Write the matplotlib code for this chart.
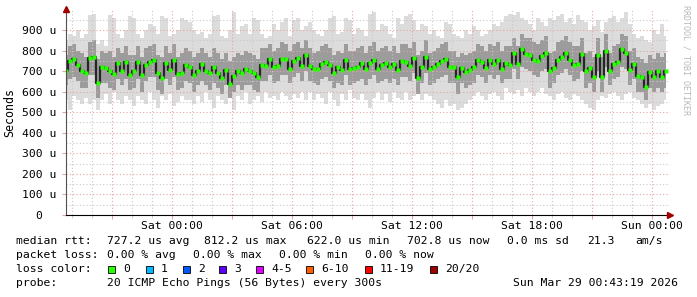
import pandas as pd
import matplotlib
matplotlib.use("Agg")
import matplotlib.pyplot as plt
import matplotlib.dates as mdates
from matplotlib.patches import Rectangle

plt.rcParams["font.family"] = "DejaVu Sans Mono"

# ---------------- data (microseconds) ----------------
start = "2026-03-27 18:42"
step_min = 12

median = [
    700, 750, 760, 730, 700, 690, 765, 770, 640, 720, 715, 700, 685, 740, 700, 745,
    680, 700, 745, 680, 730, 745, 755, 690, 665, 740, 705, 755, 685, 690, 730,
    720, 680, 700, 735, 700, 690, 720, 690, 665, 705, 635, 675, 700, 690, 710,
    700, 690, 670, 730, 725, 760, 720, 725, 760, 760, 710, 750, 765, 725, 780,
    725, 710, 710, 735, 745, 730, 690, 720, 705, 755, 710, 715, 720, 740, 710,
    740, 755, 710, 730, 740, 720, 735, 705, 750, 745, 725, 765, 665, 720, 770,
    710, 720, 735, 750, 760, 720, 720, 670, 715, 695, 705, 720, 755, 745, 715,
    755, 735, 755, 710, 740, 730, 790, 735, 805, 785, 780, 755, 750, 775, 790,
    700, 715, 755, 770, 790, 755, 730, 735, 785, 700, 715, 670, 780, 670, 800,
    700, 735, 745, 805, 790, 705, 735, 675, 670, 625, 695, 670, 700, 670, 700,
]

ping_max = [
    850, 880, 870, 900, 860, 880, 975, 980, 830, 850, 820, 975, 960, 880, 860, 900,
    970, 960, 880, 860, 900, 930, 920, 880, 970, 960, 870, 880, 900, 960, 950,
    940, 900, 880, 890, 860, 880, 970, 975, 870, 860, 900, 985, 880, 920, 930,
    880, 960, 950, 880, 860, 870, 930, 900, 940, 960, 870, 950, 960, 900, 920,
    940, 900, 880, 870, 900, 960, 970, 880, 890, 960, 950, 880, 910, 900, 870,
    980, 985, 900, 930, 920, 880, 860, 960, 930, 970, 980, 950, 900, 930, 920,
    880, 900, 870, 860, 940, 930, 880, 870, 860, 900, 880, 920, 900, 870, 880,
    900, 930, 920, 940, 970, 980, 975, 985, 960, 950, 930, 900, 960, 940, 920,
    960, 950, 970, 980, 940, 960, 930, 975, 950, 940, 900, 920, 950, 890, 940,
    960, 970, 940, 960, 985, 930, 880, 860, 870, 850, 840, 900, 880, 930, 870,
]

ping_min = [
    560, 510, 580, 560, 540, 570, 540, 560, 510, 560, 590, 540, 600, 560, 540, 580,
    560, 530, 580, 560, 540, 600, 560, 520, 580, 560, 590, 530, 550, 580, 560,
    560, 540, 580, 550, 600, 560, 520, 580, 560, 540, 570, 510, 580, 560, 600,
    540, 560, 580, 550, 600, 570, 580, 560, 600, 580, 560, 590, 570, 600, 560,
    600, 560, 590, 570, 540, 600, 560, 530, 590, 560, 610, 570, 560, 590, 560,
    520, 570, 600, 560, 590, 550, 600, 570, 560, 600, 560, 580, 600, 560, 590,
    580, 560, 540, 520, 560, 530, 540, 510, 520, 540, 560, 580, 600, 580, 560,
    590, 600, 580, 560, 620, 600, 590, 610, 580, 620, 600, 580, 600, 620, 590,
    580, 560, 590, 600, 570, 560, 590, 580, 560, 540, 520, 510, 560, 580, 570,
    590, 600, 580, 560, 590, 600, 570, 560, 540, 520, 540, 510, 530, 540, 560,
]

inner_hi = [
    780, 820, 830, 800, 790, 770, 840, 850, 760, 800, 790, 800, 770, 810, 790, 820,
    780, 780, 820, 770, 810, 820, 830, 780, 770, 820, 790, 830, 770, 790, 810,
    800, 770, 790, 810, 790, 770, 810, 790, 760, 790, 750, 770, 790, 780, 800,
    790, 780, 760, 810, 810, 830, 800, 810, 840, 830, 800, 830, 840, 810, 850,
    810, 790, 800, 820, 830, 810, 780, 800, 790, 830, 800, 800, 810, 820, 790,
    820, 840, 800, 810, 820, 800, 820, 790, 830, 830, 810, 840, 780, 800, 850,
    790, 800, 810, 830, 840, 800, 800, 770, 790, 780, 790, 800, 830, 820, 800,
    830, 820, 840, 800, 820, 820, 860, 820, 880, 860, 860, 840, 830, 850, 870,
    790, 800, 840, 850, 870, 840, 820, 820, 860, 790, 800, 770, 860, 770, 880,
    790, 820, 830, 880, 870, 800, 810, 770, 760, 740, 780, 760, 790, 770, 790,
]

inner_lo = [
    630, 660, 670, 650, 620, 620, 680, 680, 570, 640, 640, 620, 610, 660, 630, 660,
    610, 620, 660, 600, 650, 670, 670, 610, 590, 660, 630, 670, 610, 620, 650,
    640, 600, 630, 650, 630, 610, 640, 620, 590, 630, 570, 600, 630, 610, 630,
    630, 610, 600, 650, 650, 680, 640, 650, 680, 680, 640, 670, 690, 650, 700,
    650, 640, 630, 660, 670, 650, 620, 640, 630, 680, 630, 640, 650, 660, 630,
    660, 680, 640, 650, 660, 640, 660, 630, 670, 670, 650, 690, 590, 640, 690,
    630, 640, 660, 670, 680, 640, 640, 590, 640, 620, 630, 640, 680, 670, 640,
    680, 660, 680, 640, 660, 660, 710, 660, 720, 710, 700, 680, 670, 700, 710,
    620, 640, 680, 690, 710, 680, 650, 660, 700, 620, 640, 600, 700, 600, 720,
    630, 660, 670, 720, 710, 630, 660, 600, 600, 560, 620, 600, 620, 600, 620,
]

loss_labels = ["0", "1", "2", "3", "4-5", "6-10", "11-19", "20/20"]
loss_colors = ["#26ff00", "#00b8ff", "#0059ff", "#5e00ff", "#dd00ff",
               "#ff5e00", "#ff0000", "#a10000"]

times = pd.date_range(start, periods=len(median), freq=f"{step_min}min")

# ---------------- figure ----------------
W, H = 697, 297
fig = plt.figure(figsize=(W / 100, H / 100), dpi=100)
ax = fig.add_axes([66 / W, 1 - 215 / H, (670 - 66) / W, (215 - 9.4) / H])

# smoke
ax.fill_between(times, ping_min, ping_max, step="mid", color="#dcdcdc", lw=0, zorder=1)
ax.fill_between(times, inner_lo, inner_hi, step="mid", color="#9c9c9c", lw=0, zorder=1.1)
ax.step(times, median, where="mid", color="#262626", lw=1.6, zorder=3)
ax.plot(times, median, "s", ms=2.4, color="#26ff00", mec="none", zorder=4)

ax.set_ylim(0, 1000)
ax.set_xlim(pd.Timestamp("2026-03-27 18:42"), pd.Timestamp("2026-03-29 00:54"))

# grid
ax.set_yticks(range(0, 1000, 100))
ax.set_yticks(range(50, 1000, 100), minor=True)
ax.set_yticklabels(["0  "] + [f"{v} u" for v in range(100, 1000, 100)])
ax.xaxis.set_major_locator(mdates.HourLocator(byhour=range(0, 24, 3)))
ax.xaxis.set_minor_locator(mdates.HourLocator())
ax.xaxis.set_major_formatter(
    plt.FuncFormatter(lambda v, p: mdates.num2date(v).strftime("%a %H:%M")
                      if mdates.num2date(v).hour % 6 == 0 else ""))

dot = (0, (1, 2))
ax.grid(True, which="major", color="#e4a4a4", ls=dot, lw=0.8)
ax.grid(True, which="minor", color="#c8c8c8", ls=dot, lw=0.8)
ax.set_axisbelow(False)

ax.tick_params(axis="both", which="both", labelsize=8.2, colors="#000000")
ax.tick_params(axis="y", which="major", length=3, pad=4, color="#e4a4a4")
ax.tick_params(axis="y", which="minor", length=0)
ax.tick_params(axis="x", which="major", length=3, pad=1, color="#e4a4a4")
ax.tick_params(axis="x", which="minor", length=2, color="#c8c8c8")

for s in ["top", "right"]:
    ax.spines[s].set_visible(False)
ax.spines["left"].set_color("#505050")
ax.spines["bottom"].set_color("#000000")
ax.spines["left"].set_zorder(5)
ax.spines["bottom"].set_zorder(5)

# arrows
ax.plot([0], [1.0], marker="^", ms=4, color="#a00000", transform=ax.transAxes, clip_on=False, zorder=6)
ax.plot([1.0], [0], marker=">", ms=4, color="#a00000", transform=ax.transAxes, clip_on=False, zorder=6)

fig.text(10 / W, 1 - 113 / H, "Seconds", rotation=90, ha="center", va="center", size=8.4)
fig.text(686 / W, 1 - 5 / H, "RRDTOOL / TOBI OETIKER", rotation=-90, ha="center",
         va="top", size=6, color="#b8b8b8")

# ---------------- legend text ----------------
def put(x, y, s):
    fig.text(x / W, 1 - y / H, s, ha="left", va="center", size=8.2)

row1 = [(16, "median rtt:"), (107.3, "727.2 us avg"), (204, "812.2 us max"),
        (306.7, "622.0 us min"), (406.7, "702.8 us now"), (506.7, "0.0 ms sd"),
        (586.7, "21.3"), (635, "am/s")]
row2 = [(16, "packet loss:"), (107.3, "0.00 % avg"), (193.3, "0.00 % max"),
        (279.3, "0.00 % min"), (365, "0.00 % now")]
row4 = [(16, "probe:"), (107.3, "20 ICMP Echo Pings (56 Bytes) every 300s"),
        (513.3, "Sun Mar 29 00:43:19 2026")]

for x, s in row1:
    put(x, 241, s)
for x, s in row2:
    put(x, 255.5, s)
for x, s in row4:
    put(x, 283.5, s)

put(16, 269, "loss color:")
box_x = [108.3, 145.7, 182.7, 219.3, 256, 306, 365, 430]
for bx, lab, col in zip(box_x, loss_labels, loss_colors):
    fig.patches.append(Rectangle((bx / W, 1 - 272.5 / H), 7 / W, 7 / H,
                                 transform=fig.transFigure, facecolor=col,
                                 edgecolor="#000000", lw=0.6))
    put(bx + 15, 269, lab)

fig.savefig("out.png", dpi=100, facecolor="white")
